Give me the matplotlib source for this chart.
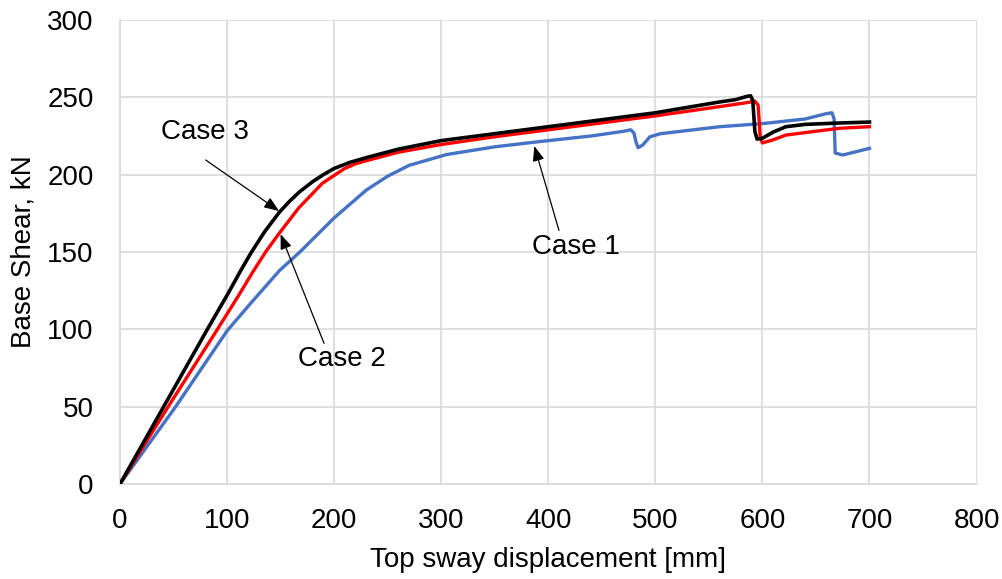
import matplotlib
matplotlib.use("Agg")
import matplotlib.pyplot as plt

plt.rcParams['font.family'] = ['Liberation Sans', 'DejaVu Sans']

# Case 1 (blue)
case1_x = [0, 52, 100, 121, 149, 168, 200, 230, 250, 270, 305, 350, 392, 440, 470, 477, 480, 482, 484, 488, 495, 505, 560, 600, 640, 660, 665, 667, 667.5, 668, 675, 700]
case1_y = [0, 50, 99, 116, 138, 150, 172, 190, 199, 206, 213, 218, 221.4, 225, 228, 229, 227, 221, 217.5, 219, 224.5, 226.5, 231, 233, 236, 239.5, 240, 236, 225, 214, 212.7, 217]
# Case 2 (red)
case2_x = [0, 45, 91, 110, 124, 136, 148.6, 167, 189, 200, 210, 220, 230, 260, 300, 350, 400, 450, 500, 560, 585, 593, 596, 597, 598, 600, 610, 622, 672, 700]
case2_y = [0, 50, 100, 121, 137, 150, 162, 178.5, 194.4, 199.5, 204, 207, 209, 214.5, 219.5, 224.5, 229, 233.5, 238, 244, 246.5, 247.5, 245, 235, 224, 220.5, 222.5, 225.6, 230, 231]
# Case 3 (black)
case3_x = [0, 40, 81.6, 100, 112, 122, 135, 148.6, 158, 167, 180, 190, 200, 215, 230, 260, 300, 350, 400, 450, 500, 560, 575, 585, 589, 591, 592, 593, 595, 600, 610, 622, 640, 672, 700]
case3_y = [0, 49, 100, 122, 137, 149, 163, 175.5, 182.5, 188.5, 195.5, 200, 204, 208, 211, 216.5, 222, 226.5, 231, 235.5, 240, 247, 248.5, 250.5, 251, 248, 238, 228, 223, 223.5, 227.5, 231, 232.5, 233.4, 234]

x_ticks = [0, 100, 200, 300, 400, 500, 600, 700, 800]
y_ticks = [0, 50, 100, 150, 200, 250, 300]

FS = 20

fig = plt.figure(figsize=(10.03, 5.79), dpi=100)
ax = fig.add_axes([0.1196, 0.164, 0.854, 0.8015])

ax.plot(case1_x, case1_y, color='#4472C4', lw=2.4, solid_joinstyle='round', zorder=3)
ax.plot(case2_x, case2_y, color='#FF0000', lw=2.4, solid_joinstyle='round', zorder=4)
ax.plot(case3_x, case3_y, color='black', lw=2.6, solid_joinstyle='round', zorder=5)

ax.set_xlim(0, 800)
ax.set_ylim(0, 300)
ax.set_xticks(x_ticks)
ax.set_yticks(y_ticks)
ax.tick_params(axis='x', length=0, labelsize=FS, pad=17)
ax.tick_params(axis='y', length=0, labelsize=FS, pad=19)
ax.grid(True, color='#d9d9d9', lw=1.2)
ax.set_axisbelow(True)
for s in ['top', 'right']:
    ax.spines[s].set_visible(False)
for s in ['left', 'bottom']:
    ax.spines[s].set_color('#d9d9d9')
    ax.spines[s].set_linewidth(1.2)

ax.set_xlabel('Top sway displacement [mm]', fontsize=FS)
ax.set_ylabel('Base Shear, kN', fontsize=FS)
ax.xaxis.set_label_coords(0.5, -0.136)
ax.yaxis.set_label_coords(-0.0975, 0.5)

arrow = dict(arrowstyle='-|>,head_length=0.9,head_width=0.35', color='black', lw=0.9, shrinkA=0, shrinkB=0)
ax.annotate('', xy=(148.6, 176.5), xytext=(80, 209.5), arrowprops=arrow, zorder=6)
ax.text(79.2, 227.8, 'Case 3', fontsize=FS, ha='center', va='center')
ax.annotate('', xy=(150, 161.5), xytext=(190.6, 91), arrowprops=arrow, zorder=6)
ax.text(207, 80.8, 'Case 2', fontsize=FS, ha='center', va='center')
ax.annotate('', xy=(387, 218.5), xytext=(410, 164), arrowprops=arrow, zorder=6)
ax.text(425.7, 153.5, 'Case 1', fontsize=FS, ha='center', va='center')

fig.savefig('out.png', dpi=100)
